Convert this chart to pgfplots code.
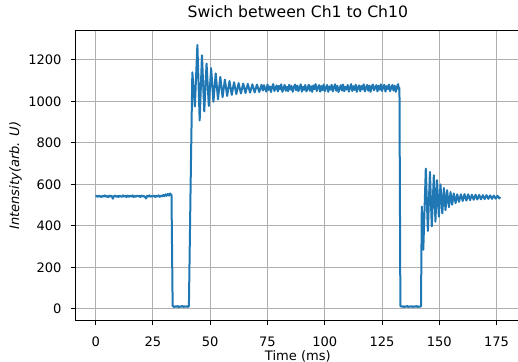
\documentclass[border=0pt]{standalone}
\usepackage{fontspec}
\setmainfont{DejaVu Sans}
\usepackage{pgfplots}
\pgfplotsset{compat=1.18}
\definecolor{mplblue}{HTML}{1F77B4}
\definecolor{gridgray}{HTML}{B0B0B0}
\begin{document}
\begin{tikzpicture}
\useasboundingbox (-75.5bp,-41.5bp) rectangle (442.5bp,320.5bp);
\begin{axis}[
 scale only axis, width=444.7bp, height=289.7bp,
 at={(0,0)}, anchor=south west,
 xmin=-8.8, xmax=185.3, ymin=-56, ymax=1340,
 xtick={0,25,...,175}, ytick={0,200,...,1200},
 grid=major, major grid style={gridgray, line width=1.05bp},
 axis line style={line width=1.05bp},
 tick align=outside, tick pos=left, major tick length=4.6bp,
 tick style={black, line width=1.05bp},
 /pgf/number format/assume math mode=true,
 /pgf/number format/1000 sep={},
 ticklabel style={font=\fontsize{13.1}{15}\selectfont, inner sep=0pt},
 xticklabel style={anchor=base, yshift=-21.8bp},
 yticklabel style={anchor=east, xshift=-9.2bp},
 title={Swich between Ch1 to Ch10},
 title style={at={(axis description cs:0.5,1)}, anchor=base, yshift=7bp, inner sep=0pt, font=\fontsize{15.7}{18}\selectfont},
 xlabel={Time (ms)},
 xlabel style={at={(axis description cs:0.5,0)}, anchor=base, yshift=-39.5bp, inner sep=0pt, font=\fontsize{13.1}{15}\selectfont},
 ylabel={\textit{Intensity(arb. U)}},
 ylabel style={at={(axis description cs:0,0.5)}, anchor=center, yshift=60bp, inner sep=0pt, font=\fontsize{13.1}{15}\selectfont},
]
\addplot[mplblue, line width=2bp, line join=round, no markers] coordinates {
(0,541)(0.5,545)(1,540)(1.5,546)(2,542)(2.5,539)(3,545)(3.5,541)(4,547)(4.5,540)
(5,544)(5.5,538)(6,546)(6.5,541)(7,544)(7.5,531)(8,543)(8.5,546)(9,540)(9.5,545)
(10,539)(10.5,546)(11,542)(11.5,540)(12,547)(12.5,541)(13,544)(13.5,539)(14,546)(14.5,540)
(15,545)(15.5,541)(16,547)(16.5,539)(17,544)(17.5,540)(18,546)(18.5,542)(19,545)(19.5,539)
(20,546)(20.5,541)(21,544)(21.5,540)(22,532)(22.5,545)(23,541)(23.5,547)(24,540)(24.5,544)
(25,542)(25.5,546)(26,539)(26.5,545)(27,541)(27.5,547)(28,540)(28.5,546)(29,542)(29.5,549)
(30,543)(30.5,552)(31,545)(31.5,554)(32,546)(32.5,556)(33.1,548)
(33.6,15)(33.9,12)(34.3,9)(34.8,13)(35.3,10)(35.8,14)(36.3,8)(36.8,12)(37.3,10)(37.8,15)
(38.3,9)(38.8,12)(39.3,10)(39.8,13)(40.3,9)(40.7,14)
(41.4,560)(42.2,1140)(43.3,975)(44.4,1272)
(45.4,908)(46.4,1222)(47.4,952)(48.4,1182)(49.4,978)(50.4,1160)(51.4,998)(52.4,1135)
(53.4,1010)(54.4,1118)(55.4,1020)(56.4,1105)(57.4,1026)(58.4,1098)(59.4,1031)(60.4,1092)
(61.4,1035)(62.4,1088)(63.4,1038)(64.4,1086)(65.4,1040)(66.4,1084)(67.4,1042)(68.4,1082)
(69.4,1043)(70.4,1081)(71.4,1045)(72.4,1080)
(73.0,1052)(73.5,1078)(74.0,1060)(74.5,1047)(75.0,1081)(75.5,1055)(76.0,1072)(76.5,1045)
(77.0,1069)(77.5,1083)(78.0,1050)(78.5,1064)(79.0,1077)(79.5,1048)(80.0,1075)(80.5,1058)
(81.0,1082)(81.5,1046)(82.0,1063)(82.5,1079)(83.0,1051)(83.5,1070)(84.0,1049)(84.5,1080)
(85.0,1057)(85.5,1074)(86.0,1046)(86.5,1068)(87.0,1081)(87.5,1053)(88.0,1076)(88.5,1049)
(89.0,1066)(89.5,1082)(90.0,1047)(90.5,1071)(91.0,1055)(91.5,1079)(92.0,1048)(92.5,1062)
(93.0,1080)(93.5,1051)(94.0,1073)(94.5,1046)(95.0,1077)(95.5,1059)(96.0,1083)(96.5,1050)
(97.0,1067)(97.5,1078)(98.0,1047)(98.5,1074)(99.0,1054)(99.5,1081)(100.0,1049)(100.5,1065)
(101.0,1079)(101.5,1046)(102.0,1072)(102.5,1056)(103.0,1080)(103.5,1048)(104.0,1069)(104.5,1082)
(105.0,1051)(105.5,1075)(106.0,1045)(106.5,1063)(107.0,1078)(107.5,1052)(108.0,1081)(108.5,1049)
(109.0,1070)(109.5,1057)(110.0,1079)(110.5,1047)(111.0,1066)(111.5,1083)(112.0,1050)(112.5,1073)
(113.0,1055)(113.5,1080)(114.0,1046)(114.5,1068)(115.0,1077)(115.5,1049)(116.0,1074)(116.5,1058)
(117.0,1082)(117.5,1048)(118.0,1064)(118.5,1079)(119.0,1051)(119.5,1076)(120.0,1046)(120.5,1071)
(121.0,1081)(121.5,1053)(122.0,1067)(122.5,1078)(123.0,1048)(123.5,1075)(124.0,1056)(124.5,1082)
(125.0,1050)(125.5,1069)(126.0,1080)(126.5,1047)(127.0,1073)(127.5,1059)(128.0,1081)(128.5,1049)
(129.0,1066)(129.5,1079)(130.0,1052)(130.5,1076)(131.0,1046)(131.5,1070)(132.0,1083)(132.4,1055)
(132.6,1065)
(133.0,15)(133.5,10)(134,13)(134.5,9)(135,12)(135.5,10)(136,14)(136.5,9)(137,12)(137.5,10)
(138,13)(138.5,9)(139,12)(139.5,10)(140,14)(140.5,9)(141,12)(141.5,10)(142.0,12)
(142.35,493)(143.0,285)(144.1,676)(145.0,375)(145.9,660)(146.7,398)(147.6,644)(148.3,420)
(149.0,620)(149.8,444)(150.5,600)(151.3,460)(152.0,582)(152.7,476)(153.4,572)(154.2,490)
(154.9,563)(155.6,502)(156.3,556)(157.1,510)(157.8,552)(158.6,516)(159.4,552)(160.2,520)
(161.0,553)(161.8,522)(162.6,552)(163.4,524)(164.2,550)(165.0,526)(165.8,550)(166.6,527)
(167.4,549)(168.2,528)(169.0,548)(169.8,529)(170.6,548)(171.4,530)(172.2,547)(173.0,530)
(173.8,546)(174.6,531)(175.4,545)(176.2,532)(176.5,540)
};
\end{axis}
\end{tikzpicture}
\end{document}
